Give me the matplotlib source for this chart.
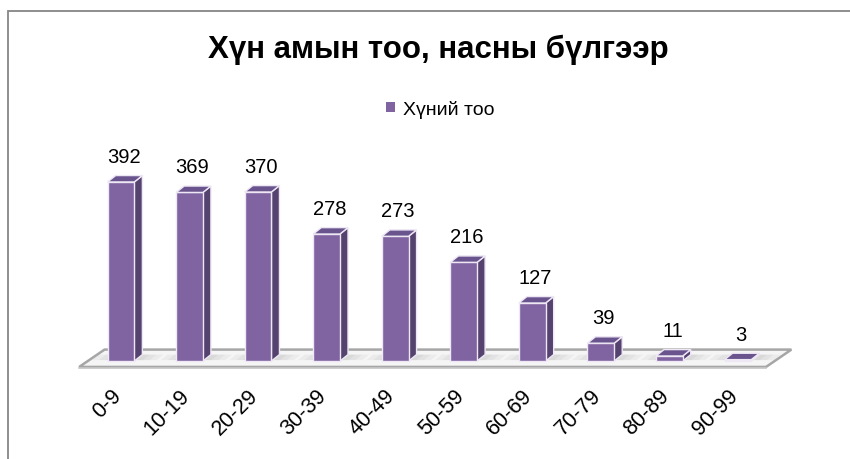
import numpy as np
import matplotlib
matplotlib.use("Agg")
import matplotlib.pyplot as plt
from matplotlib.patches import Polygon, Rectangle, Patch

plt.rcParams['font.family'] = ['Liberation Sans', 'DejaVu Sans']

# data
age_groups = ['0-9', '10-19', '20-29', '30-39', '40-49',
              '50-59', '60-69', '70-79', '80-89', '90-99']
people = [392, 369, 370, 278, 273, 216, 127, 39, 11, 3]
title = 'Хүн амын тоо, насны бүлгээр'
series_name = 'Хүний тоо'

# colours
FRONT = '#8064A2'
SIDE = '#55426F'
TOP = '#6A548E'
EDGE = '#EEE8F5'

W, H = 850, 460
fig = plt.figure(figsize=(W / 100, H / 100), dpi=100)

# axes placed so bars line up like the excel chart
x_left, x_right = 86.7, 772.2
y_base, y_top = 362, 140
ax = fig.add_axes([x_left / W, (H - y_base) / H,
                   (x_right - x_left) / W, (y_base - y_top) / H])
ax.set_xlim(-0.5, 9.5)
ax.set_ylim(0, 486)
ax.axis('off')

# 3d-ish depth offsets (data units)
bw = 0.39
bdx, bdy = 0.117, 14
fdx, fdy = 0.37, 38
floor_x0, floor_x1, floor_y = -0.61, 9.41, -13

floor = Polygon([(floor_x0, floor_y), (floor_x0 + fdx, floor_y + fdy),
                 (floor_x1 + fdx, floor_y + fdy), (floor_x1, floor_y)],
                closed=True, fc='#F5F5F5', ec='#A6A6A6', lw=1.8,
                clip_on=False, zorder=1)
ax.add_patch(floor)
# front lip of the floor
ax.plot([floor_x0, floor_x1], [floor_y - 3, floor_y - 3], color='#C8C8C8',
        lw=1.2, clip_on=False, zorder=1)

x = np.arange(len(people))
# soft shadows on floor
for xi in x:
    for k, a in enumerate([0.10, 0.10, 0.12]):
        s = 0.42 - k * 0.1
        sh = Polygon([(xi - s, 2), (xi - s + 0.1, 14), (xi + s + 0.2, 14), (xi + s + 0.1, 2)],
                     closed=True, fc='#9A9A9A', ec='none', alpha=a, clip_on=False, zorder=1.5)
        ax.add_patch(sh)

ax.bar(x, people, width=bw, color=FRONT, edgecolor=EDGE, linewidth=1,
       zorder=3, clip_on=False)
for xi, v in zip(x, people):
    r = xi + bw / 2
    l = xi - bw / 2
    side = Polygon([(r, 0), (r + bdx, bdy), (r + bdx, v + bdy), (r, v)],
                   closed=True, fc=SIDE, ec=EDGE, lw=1, zorder=2.9, clip_on=False)
    top = Polygon([(l, v), (l + bdx, v + bdy), (r + bdx, v + bdy), (r, v)],
                  closed=True, fc=TOP, ec=EDGE, lw=1, zorder=3.1, clip_on=False)
    ax.add_patch(side)
    ax.add_patch(top)
    ax.annotate(str(v), (xi, v), xytext=(3, 16), textcoords='offset pixels',
                ha='center', va='bottom', fontsize=14.5, color='black', zorder=5)

# category labels
for xi, lab in zip(x, age_groups):
    ax.annotate(lab, (xi, 0), xytext=(-3, -31), textcoords='offset pixels',
                rotation=45, rotation_mode='anchor', ha='right', va='center',
                fontsize=15.5, color='black', annotation_clip=False)

fig.text(438 / W, (H - 58) / H, title, ha='center', va='baseline',
         fontsize=22.5, fontweight='bold')

fig.legend(handles=[Patch(facecolor=FRONT, edgecolor='none', label=series_name)],
           loc='center', bbox_to_anchor=(440 / W, (H - 110) / H),
           frameon=False, fontsize=14, handlelength=0.45, handleheight=0.45,
           handletextpad=0.4, borderpad=0)

fig.patches.append(Rectangle((8 / W, -0.1), 1.2, (H - 12) / H + 0.1,
                             transform=fig.transFigure, fill=False,
                             ec='#868686', lw=1.3))

fig.savefig('out.png', dpi=100)
